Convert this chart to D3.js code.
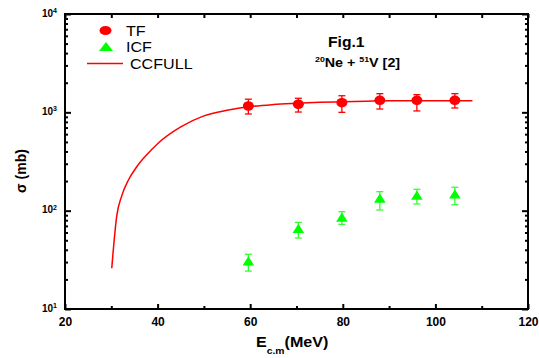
<!DOCTYPE html>
<html>
<head>
<meta charset="utf-8">
<script src="https://cdn.jsdelivr.net/npm/d3@7/dist/d3.min.js"></script>
<style>
  body { margin: 0; background: #fff; }
  text { font-family: Arial, "Liberation Sans", sans-serif; }
</style>
</head>
<body>
<div id="chart"></div>
<script>
// measured points (E c.m. in MeV, cross sections in mb)
const energies = [59.6, 70.4, 79.8, 88.0, 96.0, 104.2];
const tf = [1160, 1208, 1253, 1325, 1325, 1325];
const tfLo = [962, 1007, 1000, 1081, 1033, 1107];
const tfHi = [1360, 1390, 1475, 1548, 1512, 1548];
const icf = [30.8, 66, 86, 134, 144, 148];
const icfLo = [24.3, 52.7, 72.6, 101.6, 117, 115];
const icfHi = [36, 76, 97.6, 156, 165, 173];

// CCFULL calculation
const ccE = [30.1, 31.2, 32.2, 33.7, 35.5, 37.6, 40, 45, 50, 55, 60, 65, 70, 75, 80, 85, 90, 100, 108];
const ccS = [26, 90, 139, 205, 280, 368, 480, 710, 920, 1050, 1145, 1200, 1235, 1265, 1283, 1300, 1310, 1313, 1315];

const xTicks = [20, 40, 60, 80, 100, 120];
const xMinor = [30, 50, 70, 90, 110];
const yTicks = [10, 100, 1000, 10000];

const W = 539, H = 358;
const margin = { top: 14, right: 11, bottom: 49, left: 65 };
const width = W - margin.left - margin.right;
const height = H - margin.top - margin.bottom;

const svg = d3.select("#chart").append("svg")
    .attr("width", W)
    .attr("height", H);

const g = svg.append("g")
    .attr("transform", `translate(${margin.left},${margin.top})`);

const x = d3.scaleLinear().domain([20, 120]).range([0, width]);
const y = d3.scaleLog().domain([10, 10000]).range([height, 0]);

// minor log ticks 2..9 per decade
const yMinor = [];
[10, 100, 1000].forEach(d => { for (let k = 2; k <= 9; k++) yMinor.push(d * k); });

function styleAxis(sel) {
    sel.select(".domain").remove();
    sel.selectAll("line").attr("stroke", "#000").attr("stroke-width", 2);
}

// bottom
g.append("g").attr("transform", `translate(0,${height})`)
    .call(d3.axisBottom(x).tickValues(xTicks).tickSize(-5).tickPadding(8).tickFormat(d3.format("d")))
    .call(styleAxis)
    .selectAll("text")
    .attr("fill", "#000")
    .style("font-size", "12px")
    .style("font-weight", "bold");
g.append("g").attr("transform", `translate(0,${height})`)
    .call(d3.axisBottom(x).tickValues(xMinor).tickSize(-3).tickFormat(""))
    .call(styleAxis);

// top
g.append("g")
    .call(d3.axisTop(x).tickValues(xTicks.concat(xMinor)).tickSize(-4).tickFormat(""))
    .call(styleAxis);

// left
const yAx = g.append("g")
    .call(d3.axisLeft(y).tickValues(yTicks).tickSize(-6).tickPadding(8).tickFormat(""))
    .call(styleAxis);
yAx.selectAll(".tick text")
    .attr("dy", "0.2em")
    .style("font-size", "10px")
    .style("font-weight", "bold")
    .attr("fill", "#000")
    .each(function(d) {
        const t = d3.select(this);
        t.append("tspan").text("10");
        t.append("tspan").attr("dy", "-0.5em").style("font-size", "7px").text(Math.round(Math.log10(d)));
    });
g.append("g")
    .call(d3.axisLeft(y).tickValues(yMinor).tickSize(-3).tickFormat(""))
    .call(styleAxis);

// right
g.append("g").attr("transform", `translate(${width},0)`)
    .call(d3.axisRight(y).tickValues(yTicks).tickSize(-6).tickFormat(""))
    .call(styleAxis);
g.append("g").attr("transform", `translate(${width},0)`)
    .call(d3.axisRight(y).tickValues(yMinor).tickSize(-3).tickFormat(""))
    .call(styleAxis);

// frame
g.append("rect")
    .attr("width", width)
    .attr("height", height)
    .attr("fill", "none")
    .attr("stroke", "#000")
    .attr("stroke-width", 2);

// CCFULL curve
const line = d3.line()
    .x(d => x(d[0]))
    .y(d => y(d[1]))
    .curve(d3.curveMonotoneX);
g.append("path")
    .datum(ccE.map((e, i) => [e, ccS[i]]))
    .attr("d", line)
    .attr("fill", "none")
    .attr("stroke", "#ff0000")
    .attr("stroke-width", 1.5);

// error bars
function errorBars(vals, lo, hi, color) {
    const eb = g.append("g").attr("stroke", color).attr("stroke-width", 1.3);
    energies.forEach((e, i) => {
        const cx = x(e);
        eb.append("line").attr("x1", cx).attr("x2", cx).attr("y1", y(lo[i])).attr("y2", y(hi[i]));
        eb.append("line").attr("x1", cx - 3.5).attr("x2", cx + 3.5).attr("y1", y(lo[i])).attr("y2", y(lo[i]));
        eb.append("line").attr("x1", cx - 3.5).attr("x2", cx + 3.5).attr("y1", y(hi[i])).attr("y2", y(hi[i]));
    });
}
errorBars(tf, tfLo, tfHi, "#ff0000");
errorBars(icf, icfLo, icfHi, "#33ff33");

// TF circles
g.selectAll(".tf")
    .data(energies)
    .enter().append("ellipse")
    .attr("class", "tf")
    .attr("cx", d => x(d))
    .attr("cy", (d, i) => y(tf[i]))
    .attr("rx", 5.5)
    .attr("ry", 4.8)
    .attr("fill", "#ff0000");

// ICF triangles
const tri = (cx, cy, hw, hh) => `M${cx},${cy - hh}L${cx + hw},${cy + hh}L${cx - hw},${cy + hh}Z`;
g.selectAll(".icf")
    .data(energies)
    .enter().append("path")
    .attr("class", "icf")
    .attr("d", (d, i) => tri(x(d), y(icf[i]), 5.8, 4.6))
    .attr("fill", "#00ff00");

// legend
function stretchedText(parent, tx, ty, sx) {
    return parent.append("text").attr("transform", `translate(${tx},${ty}) scale(${sx},1)`);
}
svg.append("ellipse").attr("cx", 105.5).attr("cy", 30.5).attr("rx", 6).attr("ry", 4.5).attr("fill", "#ff0000");
stretchedText(svg, 126, 35.5, 1.15).style("font-size", "14px").text("TF");
svg.append("path").attr("d", tri(106, 46.5, 7, 4.5)).attr("fill", "#00ff00");
stretchedText(svg, 126, 52, 1.15).style("font-size", "14px").text("ICF");
svg.append("line").attr("x1", 87).attr("x2", 123).attr("y1", 63.5).attr("y2", 63.5)
    .attr("stroke", "#ff0000").attr("stroke-width", 1.5);
stretchedText(svg, 130, 69, 1.15).style("font-size", "14px").text("CCFULL");

// annotation
stretchedText(svg, 328, 47, 1.12).style("font-size", "14px").style("font-weight", "bold").text("Fig.1");
const ann = stretchedText(svg, 315, 66.5, 1.1).style("font-size", "13px").style("font-weight", "bold");
ann.append("tspan").attr("dy", "-5").style("font-size", "8px").text("20");
ann.append("tspan").attr("dy", "5").text("Ne + ");
ann.append("tspan").attr("dy", "-5").style("font-size", "8px").text("51");
ann.append("tspan").attr("dy", "5").text("V [2]");

// axis titles
svg.append("text")
    .attr("transform", "translate(26,171) rotate(-90)")
    .attr("text-anchor", "middle")
    .style("font-size", "14px")
    .style("font-weight", "bold")
    .text("σ (mb)");

const xt = stretchedText(svg, 256, 347, 1.15).style("font-size", "14px").style("font-weight", "bold");
xt.append("tspan").text("E");
xt.append("tspan").attr("dy", "7").style("font-size", "9px").text("c.m");
xt.append("tspan").attr("dy", "-7").text("(MeV)");
</script>
</body>
</html>
